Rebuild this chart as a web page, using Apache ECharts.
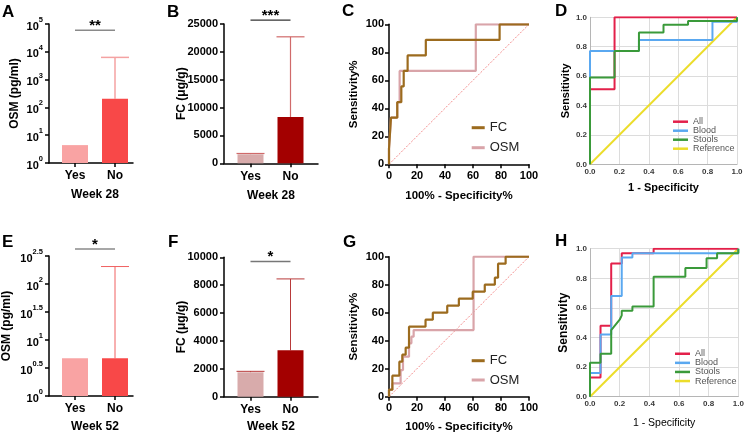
<!DOCTYPE html>
<html><head><meta charset="utf-8">
<script src="https://cdn.jsdelivr.net/npm/echarts@6/dist/echarts.min.js"></script>
<style>html,body{margin:0;padding:0;background:#fff}#c{width:753px;height:434px}</style>
</head><body><div id="c"></div>
<script>
// ---------------- DATA ----------------
const groups = ['Yes', 'No'];
// Week 28 bar charts
const osm28Mean  = [4.4, 205];     // pg/ml
const osm28Upper = [4.4, 6300];
const fc28Mean   = [1620, 8300];   // ug/g
const fc28Upper  = [1760, 22700];
// Week 52 bar charts
const osm52Mean  = [4.7, 4.7];
const osm52Upper = [4.7, 205];
const fc52Mean   = [1750, 3330];
const fc52Upper  = [1820, 8450];
// significance brackets [groupFrom, groupTo, height]
const sigOsm28 = [0, 1, 60000];  const sigOsm28Label = '**';
const sigFc28  = [0, 1, 25700];  const sigFc28Label  = '***';
const sigOsm52 = [0, 1, 420];    const sigOsm52Label = '*';
const sigFc52  = [0, 1, 9700];   const sigFc52Label  = '*';
// log-axis tick exponents
const osm28Exps = [0, 1, 2, 3, 4, 5];
const osm52Exps = [0, 0.5, 1, 1.5, 2, 2.5];
// ROC week 28 (percent)
const rocFC28 = [[0,0],[0,11.1],[1.4,11.1],[1.4,33.3],[5.9,33.3],[5.9,44.4],[8.8,44.4],[8.8,55.6],[10.5,55.6],[10.5,66.7],[13.3,66.7],[13.3,77.8],[26.3,77.8],[26.3,88.9],[79,88.9],[79,100],[100,100]];
const rocOSM28 = [[0,0],[0,11.1],[1.4,11.1],[1.4,33.3],[5.9,33.3],[5.9,44.4],[7.6,44.4],[7.6,66.7],[62,66.7],[62,100],[100,100]];
// ROC week 52 (percent)
const rocFC52 = [[0,0],[0,5],[2.4,5],[2.4,15],[7.4,15],[7.4,25],[9.5,25],[9.5,30],[11.9,30],[11.9,35],[14.3,35],[14.3,50],[26.1,50],[26.1,55],[31.3,55],[31.3,60],[41.6,60],[41.6,65],[49.9,65],[49.9,70],[59.8,70],[59.8,75],[68.4,75],[68.4,80],[75.6,80],[75.6,85],[77.9,85],[77.9,95],[83.3,95],[83.3,100],[100,100]];
const rocOSM52 = [[0,0],[0,4.8],[2.4,4.8],[2.4,9.5],[8.3,9.5],[8.3,19],[10,19],[10,28.6],[14.3,28.6],[14.3,38.1],[16,38.1],[16,42.9],[17.6,42.9],[17.6,47.6],[60.4,47.6],[60.4,100],[100,100]];
const rocDiag = [[0,0],[100,100]];
// Combined ROC week 28
const rocAll28    = [[0,0],[0,0.51],[0.167,0.51],[0.167,1],[1,1]];
const rocBlood28  = [[0,0],[0,0.77],[0.333,0.77],[0.333,0.846],[0.833,0.846],[0.833,0.97],[1,0.97],[1,1]];
const rocStools28 = [[0,0],[0,0.59],[0.167,0.59],[0.167,0.77],[0.333,0.77],[0.333,0.897],[0.5,0.897],[0.5,0.949],[0.667,0.949],[0.667,0.974],[1,0.974],[1,1]];
// Combined ROC week 52
const rocAll52    = [[0,0],[0,0.13],[0.071,0.13],[0.071,0.48],[0.143,0.48],[0.143,0.9],[0.214,0.9],[0.214,0.97],[0.429,0.97],[0.429,1],[1,1]];
const rocBlood52  = [[0,0],[0,0.16],[0.071,0.16],[0.071,0.42],[0.143,0.42],[0.143,0.68],[0.214,0.68],[0.214,0.94],[0.286,0.94],[0.286,0.97],[1,0.97],[1,1]];
const rocStools52 = [[0,0],[0,0.23],[0.071,0.23],[0.071,0.29],[0.143,0.29],[0.143,0.45],[0.2,0.52],[0.214,0.55],[0.214,0.58],[0.286,0.58],[0.286,0.61],[0.429,0.61],[0.429,0.81],[0.643,0.81],[0.643,0.87],[0.786,0.87],[0.786,0.935],[0.857,0.935],[0.857,0.97],[1,0.97],[1,1]];
const rocRef = [[0,0],[1,1]];
const panelLetters = ['A','B','C','D','E','F','G','H'];

// ---------------- STYLE / LAYOUT ----------------
const font = 'Liberation Sans, Arial, Helvetica, sans-serif';
const osmColors = ['#F9A3A3', '#F84848'];
const fcColors  = ['#D8ABAB', '#A30000'];
const cFC = '#9C6B1E', cOSM = '#D9A4A9';
const cAll = '#E3204A', cBlood = '#5AA8F0', cStools = '#3A9A3A', cRef = '#ECDD2A';
const grids = [
  {left:49,  top:24,    width:84,    height:139},
  {left:224, top:24,    width:94,    height:139.3},
  {left:389, top:24.3,  width:140,   height:140},
  {left:590, top:17.3,  width:147,   height:147},
  {left:49,  top:256,   width:84,    height:140},
  {left:224, top:257.3, width:94,    height:139.4},
  {left:389, top:256.7, width:140,   height:140},
  {left:590, top:248.7, width:148.3, height:148}
].map(g => Object.assign({containLabel:false, outerBoundsMode:'none'}, g));
const letterPos = [[2,4],[167,4],[342,3],[555,3],[2,234],[168,234],[343,234],[555,232.5]];

const bold = (s) => ({fontFamily:font, fontWeight:'bold', fontSize:s, color:'#000'});
const blackLine = {show:true, onZero:false, lineStyle:{color:'#000', width:1.5}};
const log10 = Math.log10;
const ident = v => v;
const fmtExp = v => String(Math.round(v*10)/10);

function barX(gi, min, max, name, padLeft, gap) {
  return {gridIndex:gi, type:'value', min, max, name, nameLocation:'middle', nameGap:gap, nameMoveOverlap:false,
    nameTextStyle:Object.assign(bold(12), {padding:[0,0,0,padLeft]}),
    axisLine:blackLine,
    axisTick:{show:true, customValues:[0,1], length:4, lineStyle:{color:'#000', width:1.5}},
    axisLabel:Object.assign(bold(12), {customValues:[0,1], margin:7, formatter:v => groups[Math.round(v)]}),
    splitLine:{show:false}};
}
function barYLog(gi, exps, name, gap) {
  return {gridIndex:gi, type:'value', min:exps[0], max:exps[exps.length-1], interval:exps[1]-exps[0],
    name, nameLocation:'middle', nameGap:gap, nameMoveOverlap:false, nameTextStyle:bold(12),
    axisLine:blackLine, axisTick:{show:true, length:4, lineStyle:{color:'#000', width:1.5}},
    axisLabel:{margin:6, formatter:v => '{b|10}{s|' + fmtExp(v) + '}',
      rich:{b:Object.assign(bold(11), {lineHeight:16, verticalAlign:'bottom'}),
            s:Object.assign(bold(7.5), {lineHeight:16, verticalAlign:'top'})}},
    splitLine:{show:false}};
}
function barYLin(gi, max, interval, name, gap) {
  return {gridIndex:gi, type:'value', min:0, max, interval, name, nameLocation:'middle', nameGap:gap, nameMoveOverlap:false,
    nameTextStyle:bold(12), axisLine:blackLine, axisTick:{show:true, length:4, lineStyle:{color:'#000', width:1.5}},
    axisLabel:Object.assign(bold(11), {margin:6, formatter:v => String(v)}), splitLine:{show:false}};
}
function rocX(gi, gap) {
  return {gridIndex:gi, type:'value', min:0, max:100, interval:20, name:'100% - Specificity%', nameLocation:'middle',
    nameGap:gap, nameMoveOverlap:false, nameTextStyle:bold(11.5), axisLine:blackLine,
    axisTick:{show:true, length:4, lineStyle:{color:'#000', width:1.5}}, axisLabel:Object.assign(bold(11), {margin:6}),
    splitLine:{show:false}};
}
function rocY(gi) {
  return {gridIndex:gi, type:'value', min:0, max:100, interval:20, name:'Sensitivity%', nameLocation:'middle',
    nameGap:29, nameMoveOverlap:false, nameTextStyle:bold(11.5), axisLine:blackLine,
    axisTick:{show:true, length:4, lineStyle:{color:'#000', width:1.5}}, axisLabel:Object.assign(bold(11), {margin:5}),
    splitLine:{show:false}};
}
function spssAxis(gi, name, gap, nameStyle, margin) {
  return {gridIndex:gi, type:'value', min:0, max:1, interval:0.2, name, nameLocation:'middle', nameGap:gap,
    nameMoveOverlap:false, nameTextStyle:nameStyle,
    axisLine:{show:true, onZero:false, lineStyle:{color:'#B5B5B5', width:1}}, axisTick:{show:false},
    axisLabel:{fontFamily:font, fontWeight:'bold', fontSize:8, color:'#3a3a3a', margin, formatter:v => v.toFixed(1)},
    splitLine:{show:true, lineStyle:{color:'#DCDCDC', width:1}}};
}

function barSeries(gi, mean, colors, t) {
  return {type:'bar', xAxisIndex:gi, yAxisIndex:gi, barWidth:26, z:3,
    data: groups.map((g, i) => ({value:[i, t(mean[i])], itemStyle:{color:colors[i]}}))};
}
function errSeries(gi, mean, upper, t, color, lw, capHalf) {
  return {type:'custom', xAxisIndex:gi, yAxisIndex:gi, clip:false, z:2,
    data: groups.map((g, i) => [i, t(mean[i]), t(upper[i])]), encode:{x:0, y:[1,2]},
    renderItem:(params, api) => {
      const x = api.value(0), m = api.value(1), u = api.value(2);
      if (!(u > m)) return null;
      const p0 = api.coord([x, m]), p1 = api.coord([x, u]);
      const st = {stroke:color, lineWidth:lw};
      return {type:'group', children:[
        {type:'line', shape:{x1:p0[0], y1:p0[1], x2:p1[0], y2:p1[1]}, style:st},
        {type:'line', shape:{x1:p1[0]-capHalf, y1:p1[1], x2:p1[0]+capHalf, y2:p1[1]}, style:st}]};
    }};
}
function sigSeries(gi, sig, label, t, color, lw) {
  return {type:'custom', xAxisIndex:gi, yAxisIndex:gi, clip:false, z:4,
    data:[[sig[0], sig[1], t(sig[2])]], encode:{x:[0,1], y:2},
    renderItem:(params, api) => {
      const a = api.coord([api.value(0), api.value(2)]), b = api.coord([api.value(1), api.value(2)]);
      return {type:'group', children:[
        {type:'line', shape:{x1:a[0], y1:a[1], x2:b[0], y2:b[1]}, style:{stroke:color, lineWidth:lw}},
        {type:'text', style:{text:label, x:(a[0]+b[0])/2, y:a[1]+3, align:'center', verticalAlign:'bottom',
          fontFamily:font, fontWeight:'bold', fontSize:15, fill:'#000'}}]};
    }};
}
function lineS(gi, name, data, color, width, type) {
  return {type:'line', name, xAxisIndex:gi, yAxisIndex:gi, data, showSymbol:false, symbol:'none',
    itemStyle:{color}, lineStyle:{color, width, type:type || 'solid'}, z:3};
}

const option = {
  animation:false,
  backgroundColor:'#fff',
  title: panelLetters.map((t, i) => ({text:t, left:letterPos[i][0], top:letterPos[i][1], padding:0,
    textStyle:{fontFamily:font, fontWeight:'bold', fontSize:17, color:'#000'}})),
  grid: grids,
  legend: [
    {data:['FC','OSM'], orient:'vertical', left:471.7, top:120.7, itemWidth:13, itemHeight:3, itemGap:6, icon:'rect',
     padding:0, selectedMode:false, textStyle:{fontFamily:font, fontSize:13, color:'#222', lineHeight:14}},
    {data:['FC','OSM'], orient:'vertical', left:471.7, top:353.7, itemWidth:13, itemHeight:3, itemGap:5.3, icon:'rect',
     padding:0, selectedMode:false, textStyle:{fontFamily:font, fontSize:13, color:'#222', lineHeight:14}},
    {data:['All','Blood','Stools','Reference'], orient:'vertical', left:673, top:117.2, itemWidth:15, itemHeight:2.5,
     itemGap:0, icon:'rect', padding:0, selectedMode:false, textStyle:{fontFamily:font, fontSize:9, color:'#555', lineHeight:8.9}},
    {data:['All','Blood','Stools','Reference'], orient:'vertical', left:675, top:349.2, itemWidth:15, itemHeight:2.5,
     itemGap:0, icon:'rect', padding:0, selectedMode:false, textStyle:{fontFamily:font, fontSize:9, color:'#555', lineHeight:9.1}}
  ],
  xAxis: [
    barX(0, -0.65, 1.45, 'Week 28', 8, 26),
    barX(1, -0.6625, 1.6875, 'Week 28', 0, 26),
    rocX(2, 25.5),
    spssAxis(3, '1 - Specificity', 18, bold(11), 3.5),
    barX(4, -0.65, 1.45, 'Week 52', 8, 25),
    barX(5, -0.6625, 1.6875, 'Week 52', 0, 24),
    rocX(6, 24),
    spssAxis(7, '1 - Specificity', 21, {fontFamily:font, fontSize:10.5, color:'#000'}, 3.5)
  ],
  yAxis: [
    barYLog(0, osm28Exps, 'OSM (pg/ml)', 28),
    barYLin(1, 25000, 5000, 'FC (μg/g)', 36),
    rocY(2),
    spssAxis(3, 'Sensitivity', 18.5, bold(11), 3),
    barYLog(4, osm52Exps, 'OSM (pg/ml)', 36),
    barYLin(5, 10000, 2000, 'FC (μg/g)', 36),
    rocY(6),
    spssAxis(7, 'Sensitivity', 20, bold(12), 3)
  ],
  series: [
    errSeries(0, osm28Mean, osm28Upper, log10, '#F4A2A2', 1.5, 14),
    barSeries(0, osm28Mean, osmColors, log10),
    sigSeries(0, sigOsm28, sigOsm28Label, log10, '#8a8a8a', 1.5),
    errSeries(1, fc28Mean, fc28Upper, ident, '#D06A6A', 1.2, 14),
    barSeries(1, fc28Mean, fcColors, ident),
    sigSeries(1, sigFc28, sigFc28Label, ident, '#333', 1.2),
    lineS(2, 'diag', rocDiag, '#F07070', 0.8, [2, 1.5]),
    lineS(2, 'OSM', rocOSM28, cOSM, 2.2),
    lineS(2, 'FC', rocFC28, cFC, 2.2),
    lineS(3, 'Reference', rocRef, cRef, 2),
    lineS(3, 'All', rocAll28, cAll, 2),
    lineS(3, 'Blood', rocBlood28, cBlood, 2),
    lineS(3, 'Stools', rocStools28, cStools, 2),
    errSeries(4, osm52Mean, osm52Upper, log10, '#F06060', 1, 14),
    barSeries(4, osm52Mean, osmColors, log10),
    sigSeries(4, sigOsm52, sigOsm52Label, log10, '#8a8a8a', 1.5),
    errSeries(5, fc52Mean, fc52Upper, ident, '#B83A3A', 1, 14),
    barSeries(5, fc52Mean, fcColors, ident),
    sigSeries(5, sigFc52, sigFc52Label, ident, '#777', 1.5),
    lineS(6, 'diag', rocDiag, '#F07070', 0.8, [2, 1.5]),
    lineS(6, 'OSM', rocOSM52, cOSM, 2.2),
    lineS(6, 'FC', rocFC52, cFC, 2.2),
    lineS(7, 'Reference', rocRef, cRef, 2),
    lineS(7, 'All', rocAll52, cAll, 2),
    lineS(7, 'Blood', rocBlood52, cBlood, 2),
    lineS(7, 'Stools', rocStools52, cStools, 2)
  ]
};
const chart = echarts.init(document.getElementById('c'), null, {renderer:'canvas'});
chart.setOption(option);
</script></body></html>
